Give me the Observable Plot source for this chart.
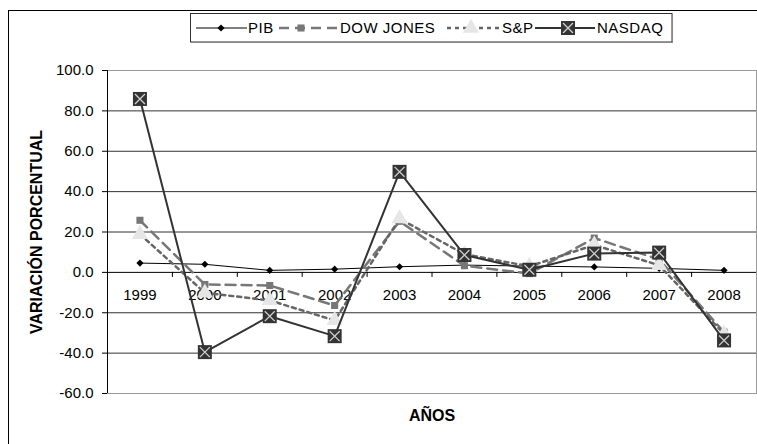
<!DOCTYPE html>
<html>
<head>
<meta charset="utf-8">
<script src="https://cdn.jsdelivr.net/npm/d3@7"></script>
<script src="https://cdn.jsdelivr.net/npm/@observablehq/plot@0.6"></script>
<style>
  html, body { margin: 0; padding: 0; background: #fff; }
  #wrap { position: relative; width: 757px; height: 444px; overflow: hidden; font-family: "Liberation Sans", Arial, sans-serif; }
  #outer { position: absolute; left: 8px; top: 10px; width: 800px; height: 500px; border-left: 1.5px solid #000; border-top: 1.5px solid #000; box-sizing: border-box; }
  #chart { position: absolute; left: 0; top: 0; }
  #legend { position: absolute; left: 190px; top: 13px; }
</style>
</head>
<body>
<div id="wrap">
  <div id="outer"></div>
  <div id="chart"></div>
  <div id="legend"></div>
</div>
<script>
// ---- data ----
const years = [1999, 2000, 2001, 2002, 2003, 2004, 2005, 2006, 2007, 2008];
const pib = [4.6, 4.0, 1.0, 1.6, 2.8, 3.6, 3.1, 2.7, 2.0, 1.0];
const dowJones = [25.8, -6.0, -6.5, -16.4, 25.3, 3.3, -0.6, 17.0, 6.4, -29.6];
const sp = [18.9, -10.1, -13.9, -23.8, 26.6, 9.0, 3.0, 13.6, 3.5, -30.5];
const nasdaq = [85.9, -39.5, -21.7, -31.6, 49.8, 8.6, 1.3, 9.3, 9.8, -33.7];
const seriesNames = ["PIB", "DOW JONES", "S&P", "NASDAQ"];
const yTicks = [-60, -40, -20, 0, 20, 40, 60, 80, 100];
const yTitle = "VARIACIÓN PORCENTUAL";
const xTitle = "AÑOS";

const rows = (vals) => years.map((yr, i) => ({year: yr, value: vals[i]}));
const gridLines = yTicks.filter(v => v !== 0 && v !== yTicks[0] && v !== yTicks[yTicks.length - 1]);
const bounds = years.slice(1).map(y => y - 0.5);

const font = "Liberation Sans, Arial, sans-serif";

const chart = Plot.plot({
  width: 757,
  height: 444,
  marginLeft: 107,
  marginRight: 1,
  marginTop: 70,
  marginBottom: 51,
  style: {fontFamily: font, fontSize: "15px", color: "#000", background: "transparent", overflow: "visible"},
  x: {type: "linear", domain: [years[0] - 0.5, years[years.length - 1] + 0.5], axis: null},
  y: {domain: [yTicks[0], yTicks[yTicks.length - 1]], axis: null},
  marks: [
    Plot.frame({stroke: "#9a9a9a"}),
    Plot.ruleY(gridLines, {stroke: "#333", strokeWidth: 1}),
    Plot.ruleY([0], {stroke: "#000", strokeWidth: 1}),
    Plot.ruleX([years[0] - 0.5], {stroke: "#000", strokeWidth: 1}),
    Plot.axisY(yTicks, {anchor: "left", label: null, tickSize: 5, tickPadding: 9, tickFormat: d => d.toFixed(1), fontSize: 15, stroke: "#000", strokeOpacity: 1, letterSpacing: "0.5px"}),
    Plot.ruleX(bounds, {y1: 0, y2: -2.5, stroke: "#000"}),
    Plot.text(years, {x: d => d, y: 0, dy: 23, text: d => String(d), fontSize: 15, fill: "#000", letterSpacing: "0.3px"}),
    Plot.text([yTitle], {frameAnchor: "left", textAnchor: "middle", rotate: -90, dx: -71, fontSize: 16, fontWeight: "bold", fill: "#000"}),
    Plot.text([xTitle], {frameAnchor: "bottom", textAnchor: "middle", dy: 27, fontSize: 16, fontWeight: "bold", fill: "#000"}),
    // PIB
    Plot.line(rows(pib), {x: "year", y: "value", stroke: "#000", strokeWidth: 1}),
    Plot.dot(rows(pib), {x: "year", y: "value", symbol: "diamond2", r: 3.2, fill: "#000", stroke: "none"}),
    // DOW JONES
    Plot.line(rows(dowJones), {x: "year", y: "value", stroke: "#777", strokeWidth: 2.5, strokeDasharray: "10,6"}),
    Plot.dot(rows(dowJones), {x: "year", y: "value", symbol: "square", r: 4, fill: "#777", stroke: "none"}),
    // S&P
    Plot.line(rows(sp), {x: "year", y: "value", stroke: "#666", strokeWidth: 2.5, strokeDasharray: "4,4"}),
    Plot.dot(rows(sp), {x: "year", y: "value", symbol: "triangle", r: 6, fill: "#e6e6e6", stroke: "none"}),
    // NASDAQ
    Plot.line(rows(nasdaq), {x: "year", y: "value", stroke: "#333", strokeWidth: 2}),
    Plot.dot(rows(nasdaq), {x: "year", y: "value", symbol: "square", r: 7.9, fill: "#333", stroke: "none"}),
    Plot.dot(rows(nasdaq), {x: "year", y: "value", symbol: "times", r: 4.6, stroke: "#cfcfcf", strokeWidth: 1.3})
  ]
});
document.getElementById("chart").appendChild(chart);

// ---- legend ----
const lw = 483, lh = 30;
const lsvg = d3.create("svg").attr("width", lw).attr("height", lh)
  .style("font-family", font).style("font-size", "15px").style("letter-spacing", "0.5px");
lsvg.append("rect").attr("x", 0.5).attr("y", 0.5).attr("width", lw - 1.5).attr("height", lh - 1.5)
  .attr("fill", "#fff").attr("stroke", "#333");
lsvg.append("line").attr("x1", 1).attr("x2", lw - 0.5).attr("y1", lh - 0.5).attr("y2", lh - 0.5).attr("stroke", "#888");
lsvg.append("line").attr("x1", lw - 0.5).attr("x2", lw - 0.5).attr("y1", 1).attr("y2", lh).attr("stroke", "#888");
const items = [
  {x1: 6, x2: 57, m: 31, t: 58, stroke: "#000", sw: 1, dash: null, sym: d3.symbolDiamond2, size: Math.PI * 3.2 * 3.2, fill: "#000"},
  {x1: 89, x2: 148, m: 111, t: 150, stroke: "#777", sw: 2.5, dash: "10,6", sym: d3.symbolSquare, size: Math.PI * 16, fill: "#777"},
  {x1: 257, x2: 310, m: 281, t: 312, stroke: "#666", sw: 2.5, dash: "4,4", sym: d3.symbolTriangle, size: Math.PI * 36, fill: "#e6e6e6"},
  {x1: 345, x2: 405, m: 378, t: 407, stroke: "#333", sw: 2, dash: null, sym: d3.symbolSquare, size: Math.PI * 7.9 * 7.9, fill: "#333", times: true}
];
const cy = 15;
items.forEach((it, i) => {
  const g = lsvg.append("g");
  const ln = g.append("line").attr("x1", it.x1).attr("x2", it.x2).attr("y1", cy).attr("y2", cy)
    .attr("stroke", it.stroke).attr("stroke-width", it.sw);
  if (it.dash) ln.attr("stroke-dasharray", it.dash);
  g.append("path").attr("d", d3.symbol(it.sym, it.size)()).attr("transform", `translate(${it.m},${cy})`).attr("fill", it.fill);
  if (it.times) {
    g.append("path").attr("d", d3.symbol(d3.symbolTimes, Math.PI * 4.6 * 4.6)()).attr("transform", `translate(${it.m},${cy})`)
      .attr("fill", "none").attr("stroke", "#cfcfcf").attr("stroke-width", 1.3);
  }
  g.append("text").attr("x", it.t).attr("y", cy).attr("dy", "0.35em").text(seriesNames[i]);
});
document.getElementById("legend").appendChild(lsvg.node());
</script>
</body>
</html>
